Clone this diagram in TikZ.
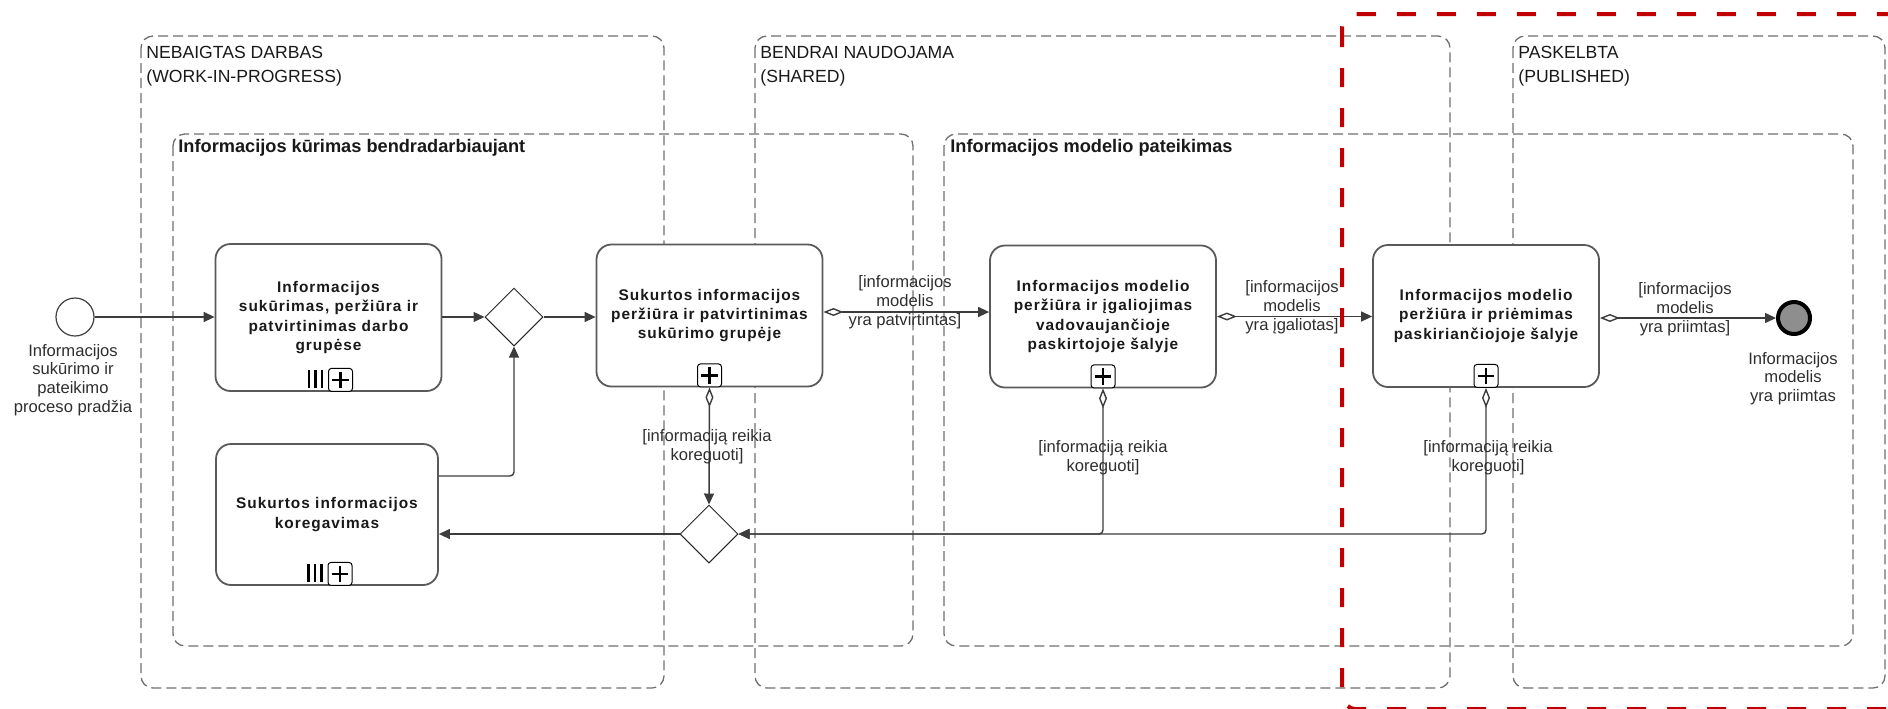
\documentclass[tikz,border=0pt]{standalone}
\usepackage{fontspec}
\setmainfont{Liberation Sans}
\newfontfamily\taskfont[LetterSpace=6.5]{Liberation Sans}
\usetikzlibrary{arrows.meta,shapes.geometric}

\definecolor{framegray}{HTML}{6E6E6E}
\definecolor{flowgray}{HTML}{3C3C3C}
\definecolor{taskgray}{HTML}{5A5A5A}
\definecolor{stagered}{HTML}{C00000}
\definecolor{endfill}{HTML}{8E8E8E}
\definecolor{labeltext}{HTML}{2E2E2E}

\begin{document}
\begin{tikzpicture}[x=0.5pt,y=-0.5pt,
  container/.style={draw=framegray, line width=0.65pt, dash pattern=on 5pt off 2.5pt, rounded corners=6pt},
  stageframe/.style={draw=stagered, line width=2pt, dash pattern=on 9.5pt off 10.5pt, rounded corners=7pt},
  stagetitle/.style={anchor=north west, inner sep=0, align=left, text=black!90,
    font=\fontsize{8.8}{11.8}\selectfont},
  grouptitle/.style={anchor=west, inner sep=0, text=black!90,
    font=\bfseries\fontsize{9.1}{11}\selectfont},
  task/.style={draw=taskgray, line width=0.9pt, fill=white, rounded corners=7.5pt,
    align=center, inner sep=0, minimum width=113pt, minimum height=71pt, text=black!90,
    font=\taskfont\bfseries\fontsize{7.7}{9.65}\selectfont},
  subproc/.style={draw=black, line width=0.5pt, fill=white, rounded corners=1.5pt,
    minimum width=12pt, minimum height=11.5pt, inner sep=0, anchor=south,
    path picture={
      \draw[line width=1.2pt] ([xshift=-4.2pt]path picture bounding box.center)
        -- ([xshift=4.2pt]path picture bounding box.center);
      \draw[line width=1.2pt] ([yshift=-4.2pt]path picture bounding box.center)
        -- ([yshift=4.2pt]path picture bounding box.center);}},
  gateway/.style={diamond, draw=black!85, line width=0.5pt, fill=white, aspect=1,
    minimum width=29pt, minimum height=29pt, inner sep=0},
  startevent/.style={circle, draw=black!75, line width=0.6pt, fill=white,
    minimum size=19pt, inner sep=0},
  endevent/.style={circle, draw=black, line width=2pt, fill=endfill,
    minimum size=16pt, inner sep=0},
  flowlabel/.style={align=center, inner sep=0, text=labeltext,
    font=\fontsize{8.3}{9.45}\selectfont},
  flow/.style={draw=flowgray, line width=0.7pt, -{Triangle[length=5.5pt,width=5pt]}},
  condflow/.style={draw=flowgray, line width=0.7pt,
    {Diamond[fill=white,length=10pt,width=4pt]}-{Triangle[length=5.5pt,width=5pt]}},
]
\useasboundingbox (0,0) rectangle (1888,708);
\clip (0,0) rectangle (1888,708);

% stage lanes
\draw[container] (141,36) rectangle (664,688);
\draw[container] (755,36) rectangle (1450,688);
\draw[container] (1513,36) rectangle (1885,688);
% process groups
\draw[container] (173,134) rectangle (913,646);
\draw[container] (944,134) rectangle (1853,646);

\node[stagetitle] (lane1) at (146,46) {NEBAIGTAS DARBAS\\(WORK-IN-PROGRESS)};
\node[stagetitle] (lane2) at (760,46) {BENDRAI NAUDOJAMA\\(SHARED)};
\node[stagetitle] (lane3) at (1518,46) {PASKELBTA\\(PUBLISHED)};
\node[grouptitle] (grp1) at (178,148) {Informacijos kūrimas bendradarbiaujant};
\node[grouptitle] (grp2) at (950,148) {Informacijos modelio pateikimas};

% events and gateways
\node[startevent] (start) at (75,317) {};
\node[flowlabel, font=\fontsize{8.3}{9.35}\selectfont] (startlab) at (73,380)
  {Informacijos\\sukūrimo ir\\pateikimo\\proceso pradžia};
\node[endevent] (end) at (1794,318) {};
\node[flowlabel, font=\fontsize{8.3}{9.25}\selectfont] (endlab) at (1793,378.5)
  {Informacijos\\modelis\\yra priimtas};

\node[gateway] (g1) at (514,317) {};
\node[gateway] (g2) at (709,534) {};

% tasks
\node[task, minimum height=73.5pt] (t1) at (328.5,317.5)
  {Informacijos\\sukūrimas, peržiūra ir\\patvirtinimas darbo\\grupėse};
\node[task] (t2) at (709.5,315.5)
  {Sukurtos informacijos\\peržiūra ir patvirtinimas\\sukūrimo grupėje};
\node[task] (t3) at (1103,316.5)
  {Informacijos modelio\\peržiūra ir įgaliojimas\\vadovaujančioje\\paskirtojoje šalyje};
\node[task] (t4) at (1486,316)
  {Informacijos modelio\\peržiūra ir priėmimas\\paskiriančiojoje šalyje};
\node[task, minimum width=111pt, minimum height=70.5pt] (t5) at (327,514.5)
  {Sukurtos informacijos\\koregavimas};

% sub-process markers
\node[subproc] (m1) at ([xshift=6pt]t1.south) {};
\node[subproc] (m2) at (t2.south) {};
\node[subproc] (m3) at (t3.south) {};
\node[subproc] (m4) at (t4.south) {};
\node[subproc] (m5) at ([xshift=6.5pt]t5.south) {};
% multi-instance bars
\foreach \m in {m1,m5}{
  \foreach \dx in {-9.6,-6.3,-3.0}{
    \draw[line width=1.3pt, black]
      ([xshift=\dx pt, yshift=1.8pt]\m.south west) -- ([xshift=\dx pt, yshift=-1pt]\m.north west);
  }
}

% sequence flows
\coordinate (kink1) at (514,476);
\coordinate (f23) at (0,312);
\draw[flow] (start) -- (t1.west |- start);
\draw[flow] (t1.east |- g1) -- (g1.west);
\draw[flow] (g1.east) -- (t2.west |- g1);
\draw[flow, rounded corners=2pt] (t5.east |- kink1) -- (kink1) -- (g1.south);
\draw[condflow] (t2.east |- f23) -- (t3.west |- f23);
\draw[condflow] (t3.east) -- (t4.west |- t3.east);
\draw[condflow] (t4.east |- end) -- (end.west);
\draw[condflow] (m2.south) -- (g2.north);
\draw[condflow, rounded corners=2pt] (m3.south) |- (g2.east);
\draw[condflow, rounded corners=2pt] (m4.south) |- (g2.east);
\draw[flow] (g2.west) -- (t5.east |- g2);

% flow conditions
\node[flowlabel] (c23) at (905,302.5) {[informacijos\\modelis\\yra patvirtintas]};
\node[flowlabel] (c34) at (1292,307.5) {[informacijos\\modelis\\yra įgaliotas]};
\node[flowlabel] (c4e) at (1685,309) {[informacijos\\modelis\\yra priimtas]};
\node[flowlabel] (r2) at (707,447) {[informaciją reikia\\koreguoti]};
\node[flowlabel] (r3) at (1103,457.5) {[informaciją reikia\\koreguoti]};
\node[flowlabel] (r4) at (1488,457.5) {[informaciją reikia\\koreguoti]};

% published boundary
\draw[stageframe] (1342,14) rectangle (1960,709);
\end{tikzpicture}
\end{document}
